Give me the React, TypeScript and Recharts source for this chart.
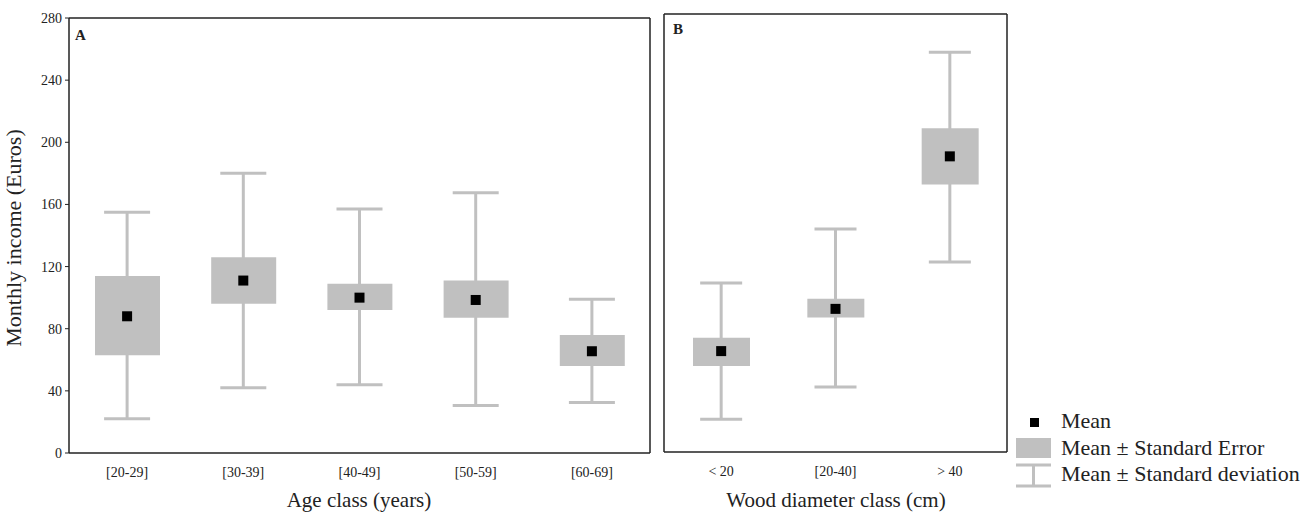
import React from 'react';
import { ComposedChart, Bar, Scatter, ErrorBar, XAxis, YAxis } from 'recharts';

// ── Panel A: age classes ──
const ageClasses = ['[20-29]', '[30-39]', '[40-49]', '[50-59]', '[60-69]'];
const ageMean = [88, 111, 100, 98.5, 65.5];
const ageSeLow = [63, 96, 92, 87, 56];
const ageSeHigh = [114, 126, 109, 111, 76];
const ageSdLow = [22, 42, 44, 30.5, 32.5];
const ageSdHigh = [155, 180, 157, 167.5, 99];

// ── Panel B: wood diameter classes ──
const diamClasses = ['< 20', '[20-40]', '> 40'];
const diamMean = [64.5, 91.5, 189];
const diamSeLow = [55, 86, 171];
const diamSeHigh = [73, 98, 207];
const diamSdLow = [21, 41.5, 121.5];
const diamSdHigh = [108, 142.5, 255.5];

const yTicks = [0, 40, 80, 120, 160, 200, 240, 280];

const GRAY = '#c0c0c0';
const INK = '#222';
const FONT = '"Liberation Serif", "Times New Roman", serif';

function build(cats: string[], mean: number[], seLo: number[], seHi: number[], sdLo: number[], sdHi: number[]) {
  return cats.map((cat, i) => ({
    cat,
    mean: mean[i],
    se: [seLo[i], seHi[i]],
    sdErr: [mean[i] - sdLo[i], sdHi[i] - mean[i]],
  }));
}

const ageData = build(ageClasses, ageMean, ageSeLow, ageSeHigh, ageSdLow, ageSdHigh);
const diamData = build(diamClasses, diamMean, diamSeLow, diamSeHigh, diamSdLow, diamSdHigh);

const MeanSquare = (props: any) => {
  const { cx, cy } = props;
  if (cx == null || cy == null) return <g />;
  return <rect x={cx - 5} y={cy - 5} width={10} height={10} fill="#000" />;
};

const Nothing = () => <g />;

function Panel({
  data,
  width,
  height,
  margin,
  leftLabels,
  boxWidth,
  capHalf,
}: {
  data: any[];
  width: number;
  height: number;
  margin: { top: number; right: number; bottom: number; left: number };
  leftLabels: boolean;
  boxWidth: number;
  capHalf: number;
}) {
  const tickFont = { fontSize: 14, fill: INK, fontFamily: FONT, style: { fontFamily: FONT } };
  const axisLine = { stroke: INK, strokeWidth: 1.5 };
  return (
    <ComposedChart width={width} height={height} data={data} margin={margin} style={{ fontFamily: FONT }}>
      <XAxis
        xAxisId="b"
        dataKey="cat"
        height={60}
        axisLine={axisLine}
        tickLine={false}
        tickSize={4}
        tickMargin={10}
        tick={tickFont}
        interval={0}
      />
      <XAxis
        xAxisId="bin"
        dataKey="cat"
        mirror
        axisLine={false}
        tick={false}
        tickLine={{ stroke: INK }}
        tickSize={4}
      />
      <XAxis
        xAxisId="t"
        dataKey="cat"
        orientation="top"
        mirror
        axisLine={axisLine}
        tick={false}
        tickLine={{ stroke: INK }}
        tickSize={4}
      />
      {leftLabels ? (
        <YAxis
          yAxisId="l"
          width={69}
          domain={[0, 280]}
          ticks={yTicks}
          axisLine={axisLine}
          tickLine={{ stroke: INK }}
          tickSize={4}
          tickMargin={3}
          tick={tickFont}
          interval={0}
        />
      ) : (
        <YAxis
          yAxisId="l"
          mirror
          domain={[0, 280]}
          ticks={yTicks}
          axisLine={axisLine}
          tickLine={{ stroke: INK }}
          tickSize={4}
          tick={false}
        />
      )}
      <YAxis
        yAxisId="r"
        orientation="right"
        mirror
        domain={[0, 280]}
        ticks={yTicks}
        axisLine={axisLine}
        tickLine={{ stroke: INK }}
        tickSize={4}
        tick={false}
      />
      <Bar
        xAxisId="b"
        yAxisId="l"
        dataKey="se"
        barSize={boxWidth}
        fill={GRAY}
        isAnimationActive={false}
      />
      <Scatter xAxisId="b" yAxisId="l" dataKey="mean" shape={Nothing} isAnimationActive={false}>
        <ErrorBar
          dataKey="sdErr"
          direction="y"
          width={capHalf}
          stroke={GRAY}
          strokeWidth={3}
          isAnimationActive={false}
        />
      </Scatter>
      <Scatter xAxisId="b" yAxisId="l" dataKey="mean" shape={MeanSquare} isAnimationActive={false} />
    </ComposedChart>
  );
}

export default function App() {
  const txt = { fontFamily: FONT, fill: INK };
  return (
    <div
      style={{
        position: 'absolute',
        left: 0,
        top: 0,
        width: 1307,
        height: 513,
        background: '#fff',
        fontFamily: FONT,
      }}
    >
      <div style={{ position: 'absolute', left: 0, top: 0 }}>
        <Panel
          data={ageData}
          width={655}
          height={513}
          margin={{ top: 18, right: 5, bottom: 0, left: 0 }}
          leftLabels
          boxWidth={65}
          capHalf={23}
        />
      </div>
      <div style={{ position: 'absolute', left: 600, top: 0 }}>
        <Panel
          data={diamData}
          width={707}
          height={513}
          margin={{ top: 14, right: 300, bottom: 1, left: 64 }}
          leftLabels={false}
          boxWidth={57}
          capHalf={21}
        />
      </div>
      <svg
        width={1307}
        height={513}
        style={{ position: 'absolute', left: 0, top: 0, pointerEvents: 'none' }}
      >
        {/* axis titles */}
        <text
          {...txt}
          fontSize={22}
          textAnchor="middle"
          transform="translate(21,238) rotate(-90)"
        >
          Monthly income (Euros)
        </text>
        <text {...txt} fontSize={21} textAnchor="middle" x={359} y={507}>
          Age class (years)
        </text>
        <text {...txt} fontSize={21} textAnchor="middle" x={836} y={507}>
          Wood diameter class (cm)
        </text>
        {/* panel letters */}
        <text {...txt} fontSize={15} fontWeight="bold" x={75} y={40}>
          A
        </text>
        <text {...txt} fontSize={15} fontWeight="bold" x={673} y={34}>
          B
        </text>
        {/* legend */}
        <g transform="translate(1015,410)">
          <rect x={15} y={8} width={9} height={9} fill="#000" />
          <text {...txt} fontSize={22} x={46} y={18}>
            Mean
          </text>
          <rect x={1} y={28} width={35} height={20} fill={GRAY} />
          <text {...txt} fontSize={22} x={46} y={45}>
            Mean ± Standard Error
          </text>
          <line x1={1} x2={36} y1={55} y2={55} stroke={GRAY} strokeWidth={3} />
          <line x1={18.5} x2={18.5} y1={55} y2={76} stroke={GRAY} strokeWidth={3} />
          <line x1={1} x2={36} y1={76} y2={76} stroke={GRAY} strokeWidth={3} />
          <text {...txt} fontSize={22} x={46} y={71}>
            Mean ± Standard deviation
          </text>
        </g>
      </svg>
    </div>
  );
}
